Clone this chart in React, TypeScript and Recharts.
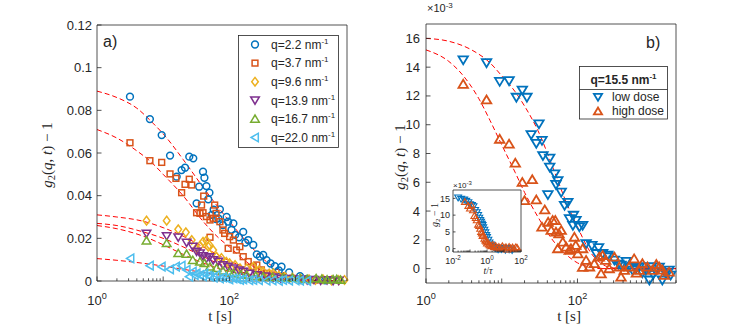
import React from "react";
import { CartesianGrid, ComposedChart, Line, Scatter, XAxis, YAxis } from "recharts";

type P = [number, number];

// ---- panel a: g2(q,t)-1 vs t [s], six q values ----
const qLabels = ["q=2.2", "q=3.7", "q=9.6", "q=13.9", "q=16.7", "q=22.0"];

const q22: P[] = [
  [3.15, 0.0864], [6.3, 0.0759], [9.5, 0.0684], [12.7, 0.0588], [16, 0.0489], [19, 0.052],
  [21.4, 0.0531], [24.8, 0.0583], [28.5, 0.0575], [32, 0.0364], [35, 0.0442], [40, 0.0512],
  [42, 0.0484], [45, 0.0445], [48, 0.0383], [50, 0.0414], [54, 0.031], [58, 0.0335],
  [63, 0.029], [68, 0.0294], [72, 0.0336], [80, 0.0262], [91, 0.03], [96, 0.0278],
  [108, 0.024], [115, 0.027], [122, 0.0216], [140, 0.0205], [162, 0.023], [175, 0.018],
  [193, 0.0192], [230, 0.0169], [260, 0.0125], [290, 0.0114], [325, 0.0122], [365, 0.0098],
  [420, 0.0082], [487, 0.007], [560, 0.005], [615, 0.0067], [800, 0.004], [1170, 0.0023],
  [1500, 0.001], [2000, 0.0006], [2800, 0.0003], [3500, 0.0004],
];
const q37: P[] = [
  [3.15, 0.0648], [6.3, 0.0564], [9.5, 0.0556], [12.7, 0.0502], [15.6, 0.0481], [19, 0.0414],
  [21.4, 0.0453], [24.8, 0.0477], [27, 0.045], [32, 0.032], [36, 0.0317], [38, 0.0356],
  [40, 0.032], [41, 0.0398], [45, 0.0302], [51, 0.0205], [51, 0.0286], [57, 0.0294],
  [60, 0.0356], [63, 0.0317], [72, 0.0278], [80, 0.0239], [85, 0.0223], [96, 0.0153],
  [101, 0.0208], [115, 0.0192], [128, 0.0145], [144, 0.0161], [162, 0.0114], [193, 0.0091],
  [230, 0.0067], [260, 0.0075], [305, 0.0052], [365, 0.0036], [460, 0.0028], [650, 0.002],
  [900, 0.0012], [1300, 0.0008], [2000, 0.0005],
];
const q96: P[] = [
  [5.6, 0.0283], [11.3, 0.0283], [16.9, 0.0242], [22, 0.0228], [27, 0.0192], [32, 0.0155],
  [36, 0.0165], [40, 0.0184], [45, 0.019], [48, 0.0161], [50, 0.0169], [57, 0.0145],
  [64, 0.0114], [76, 0.0108], [90, 0.009], [101, 0.0083], [122, 0.0075], [145, 0.006],
  [183, 0.0059], [230, 0.0067], [280, 0.005], [325, 0.0044], [400, 0.0035], [460, 0.0036],
  [560, 0.0025], [690, 0.002], [900, 0.0015], [1200, 0.001], [1600, 0.0008], [2000, 0.0005],
  [2600, 0.0008], [3500, 0.0003], [4500, 0.0004], [5500, 0.0005],
];
const q139: P[] = [
  [5.6, 0.0223], [11.3, 0.0211], [16.9, 0.0205], [22.6, 0.018], [28, 0.0161], [32, 0.0138],
  [36, 0.013], [40, 0.0117], [45, 0.0106], [50, 0.0112], [57, 0.0098], [68, 0.0091],
  [80, 0.0075], [95, 0.0068], [115, 0.0059], [140, 0.005], [162, 0.0044], [200, 0.0035],
  [260, 0.0028], [350, 0.0022], [460, 0.0017], [600, 0.0012], [800, 0.001], [1170, 0.0008],
  [1500, 0.0004], [1900, 0.0006], [2400, 0.0002], [3000, 0.0004], [3700, 0], [4500, 0.0002],
];
const q167: P[] = [
  [5.6, 0.0189], [11.3, 0.0177], [16.9, 0.013], [22.6, 0.0127], [28, 0.0098], [36, 0.0091],
  [42, 0.0083], [51, 0.0067], [64, 0.006], [80, 0.0048], [100, 0.004], [115, 0.0036],
  [150, 0.003], [183, 0.0028], [250, 0.0024], [325, 0.002], [450, 0.0018], [650, 0.0017],
  [900, 0.0014], [1170, 0.0012], [1500, 0.0009], [2050, 0.0012], [2500, 0.001], [3000, 0.0006],
  [3700, 0.0008], [4200, 0.0009], [4800, 0.0005],
];
const q220: P[] = [
  [3.2, 0.0106], [6.3, 0.0072], [9.5, 0.0067], [12.7, 0.0055], [15.6, 0.0067], [19, 0.0072],
  [22.6, 0.0052], [24.8, 0.002], [28, 0.0044], [30, 0.0028], [32, 0.0036], [36, 0.0028],
  [40, 0.0022], [42, 0.0036], [48, 0.0025], [51, 0.002], [58, 0.0016], [64, 0.0028],
  [72, 0.0012], [80, 0.0017], [90, 0.0014], [100, 0.0008], [115, 0.0012], [130, 0.001],
  [145, 0.0005], [162, 0.0008], [200, 0.0004], [230, 0.0005], [280, 0.0004], [365, 0.0002],
  [450, 0.0003], [560, 0.0001], [650, 0.0005], [800, 0.0002], [1000, 0.0003], [1170, 0.0002],
  [1500, 0.0001],
];

// fitted curves
const fit22: P[] = [[1, 0.089], [2, 0.086], [4, 0.081], [7, 0.074], [10, 0.069], [20, 0.057], [40, 0.044], [70, 0.034], [100, 0.028], [200, 0.017], [400, 0.008], [700, 0.0035], [1000, 0.0018], [2000, 0.0004], [4000, 0.0001]];
const fit37: P[] = [[1, 0.071], [2, 0.067], [4, 0.061], [7, 0.055], [10, 0.05], [20, 0.04], [40, 0.028], [70, 0.02], [100, 0.016], [200, 0.008], [400, 0.0035], [700, 0.0015], [1000, 0.0008], [2000, 0.0002], [4000, 0]];
const fit96: P[] = [[1, 0.031], [2, 0.03], [5, 0.028], [10, 0.025], [20, 0.021], [40, 0.016], [70, 0.012], [100, 0.0095], [200, 0.0055], [400, 0.0025], [700, 0.0012], [1000, 0.0007], [2000, 0.0002], [4000, 0]];
const fit139: P[] = [[1, 0.027], [2, 0.026], [5, 0.023], [10, 0.02], [20, 0.016], [40, 0.0115], [70, 0.008], [100, 0.0062], [200, 0.0032], [400, 0.0014], [700, 0.0006], [1000, 0.0003], [2000, 0.0001], [4000, 0]];
const fit167: P[] = [[1, 0.026], [2, 0.0245], [5, 0.021], [10, 0.017], [20, 0.0125], [40, 0.0085], [70, 0.0058], [100, 0.0045], [200, 0.0024], [400, 0.0012], [700, 0.0006], [1000, 0.0003], [2000, 0.0001], [4000, 0]];
const fit220: P[] = [[1, 0.0105], [2, 0.0097], [5, 0.0083], [10, 0.007], [20, 0.0055], [40, 0.004], [70, 0.0028], [100, 0.0022], [200, 0.0012], [400, 0.0006], [700, 0.0003], [1000, 0.0002], [2000, 0.0001], [4000, 0]];

const yTicksA = [0, 0.02, 0.04, 0.06, 0.08, 0.1, 0.12];

// ---- panel b: q=15.5 nm^-1, low vs high dose (units of 1e-3) ----
const doseLabels = ["low dose", "high dose"];
const lowDose: P[] = [
  [3.1, 14.5], [6.3, 14.3], [9.4, 13.0], [12.5, 13.05], [15.6, 11.9], [18.7, 12.4], [21.5, 11.9],
  [24.5, 9.3], [28.6, 8.7], [31, 10.05], [34, 8.9], [35, 7.85], [40.7, 5.13], [43, 7.67],
  [43, 7.04], [50, 6.58], [52, 5.84], [55, 6.1], [61, 5.3], [67.6, 4.39], [74.6, 4.6],
  [78.5, 3.46], [87, 3.0], [88.5, 3.7], [95.6, 3.35], [106, 2.89], [117, 3.0], [130, 1.73],
  [155, 1.6], [177, 1.04], [190, 1.45], [215, 1.04], [251, 0.92], [262, 0.8], [307, 0.58],
  [350, 0.3], [376, 0.23], [440, 0.5], [480, 0.12], [535, -0.12], [590, 0], [655, 0.12],
  [720, -0.3], [800, -0.12], [890, -0.8], [930, 0.12], [1000, -0.4], [1080, -0.16],
  [1200, 0.1], [1320, -0.8], [1450, -0.3], [1620, -0.12], [1700, -0.46],
];
const highDose: P[] = [
  [3.1, 12.82], [6.3, 11.73], [9.4, 9.0], [12.5, 8.66], [15.1, 7.34], [18.7, 6.0], [20, 4.73],
  [25.3, 6.19], [28.6, 4.78], [34, 2.89], [37, 4.09], [41, 3.23], [45, 2.66], [47, 3.35],
  [51, 3.35], [52, 2.54], [55, 1.39], [57, 2.42], [61, 2.66], [64, 1.85], [71, 1.5],
  [78, 1.27], [82, 1.39], [91, 2.19], [95, 1.62], [101, 1.04], [117, 1.39], [117, 0.1],
  [130, 0.58], [144, 0.12], [167, 0.35], [194, 0.81], [205, -0.35], [215, 0.92], [236, 0.58],
  [262, 0], [307, 0.81], [356, 0.12], [376, -0.58], [415, -0.12], [480, 0.12], [560, 0.69],
  [600, -0.3], [655, -0.12], [720, 0.35], [840, 0.12], [975, -0.12], [1100, 0.3], [1200, 0.12],
  [1320, -0.1], [1400, -0.46], [1620, -0.23],
];
const fitLow: P[] = [[1, 16.0], [2, 15.8], [4, 15.2], [7, 14.3], [10, 13.4], [15, 12.3], [20, 11.3], [30, 9.6], [50, 6.7], [70, 4.7], [100, 2.9], [150, 1.1], [200, 0.4], [300, 0.05], [500, 0], [1000, 0], [2000, 0]];
const fitHigh: P[] = [[1, 15.2], [2, 14.4], [3, 13.5], [5, 11.8], [7, 10.3], [10, 8.6], [15, 6.7], [20, 5.3], [30, 3.6], [50, 1.8], [70, 1.0], [100, 0.4], [150, 0.1], [200, 0], [1000, 0], [2000, 0]];
const zeroB: P[] = [[200, 0], [2000, 0]];
const yTicksB = [0, 2, 4, 6, 8, 10, 12, 14, 16];

// ---- inset: collapsed curves vs t/tau ----
const insetLow: P[] = [
  [0.02, 15.2], [0.03, 14.8], [0.045, 14.6], [0.06, 14.2], [0.08, 13.8], [0.1, 13.2], [0.13, 13.0],
  [0.16, 12.6], [0.2, 11.5], [0.25, 10.8], [0.3, 10.0], [0.35, 9.2], [0.4, 8.5], [0.45, 8.0],
  [0.5, 7.4], [0.55, 7.0], [0.6, 6.3], [0.7, 5.6], [0.8, 4.8], [0.9, 4.0], [1.0, 3.4], [1.2, 2.6],
  [1.4, 1.8], [1.7, 1.2], [2.0, 0.8], [2.5, 0.4], [3.0, 0.2], [3.5, 0.0], [4.5, -0.3], [5.5, 0.1],
  [7, -0.2], [9, 0.2], [12, -0.4], [15, 0.1], [20, -0.3], [25, 0.0], [30, -0.5],
];
const insetHigh: P[] = [
  [0.05, 14.0], [0.08, 12.8], [0.1, 12.0], [0.12, 13.0], [0.15, 11.5], [0.18, 9.8], [0.22, 9.2],
  [0.25, 8.5], [0.3, 7.2], [0.35, 6.8], [0.4, 6.0], [0.45, 5.0], [0.5, 4.6], [0.55, 3.8], [0.6, 4.2],
  [0.7, 3.0], [0.8, 2.5], [0.9, 2.2], [1.0, 1.6], [1.1, 2.0], [1.3, 1.3], [1.5, 1.0], [1.8, 0.8],
  [2.2, 1.2], [2.6, 0.5], [3.2, 0.9], [4, 0.3], [5, 0.6], [6, 0.1], [8, 0.8], [10, 0.3], [13, 0.5],
  [16, -0.2], [20, 0.6], [25, 0.2], [32, 0.4], [40, 0.0], [50, 0.5], [60, 0.3],
];
const yTicksInset = [0, 5, 10, 15];

// ---- styling ----
const INK = "#262626";
const SANS = "'Liberation Sans', Arial, Helvetica, sans-serif";
const SERIF = "'Liberation Serif', 'DejaVu Serif', serif";
const FIT = "#ff0000";
const C = ["#0072BD", "#D95319", "#EDB120", "#7E2F8E", "#77AC30", "#4DBEEE"];

const seriesA = [
  { data: q22, fit: fit22, k: "o", c: C[0] },
  { data: q37, fit: fit37, k: "s", c: C[1] },
  { data: q96, fit: fit96, k: "d", c: C[2] },
  { data: q139, fit: fit139, k: "v", c: C[3] },
  { data: q167, fit: fit167, k: "^", c: C[4] },
  { data: q220, fit: fit220, k: "<", c: C[5] },
];

const toPts = (a: P[]) => a.map(([t, v]) => ({ t, v }));

function logTicks(lo: number, hi: number) {
  const out: number[] = [];
  for (let e = Math.floor(Math.log10(lo)); e <= Math.ceil(Math.log10(hi)); e++) {
    for (let m = 1; m < 10; m++) {
      const v = Number((m * Math.pow(10, e)).toPrecision(3));
      if (v >= lo * 0.999 && v <= hi * 1.001) out.push(v);
    }
  }
  return out;
}
const decade = (v: number) => {
  const l = Math.log10(v);
  return Math.abs(l - Math.round(l)) < 1e-6 ? Math.round(l) : null;
};

function Mk({ k, x, y, c, s = 1, w = 1.5 }: { k: string; x: number; y: number; c: string; s?: number; w?: number }) {
  const st = { fill: "none", stroke: c, strokeWidth: w };
  if (k === "o") return <circle cx={x} cy={y} r={3.4 * s} {...st} />;
  if (k === "s") return <rect x={x - 2.9 * s} y={y - 2.9 * s} width={5.8 * s} height={5.8 * s} {...st} />;
  let pts: number[][];
  if (k === "d") pts = [[0, -4.3], [3.3, 0], [0, 4.3], [-3.3, 0]];
  else if (k === "v") pts = [[-4.3, -3.3], [4.3, -3.3], [0, 3.9]];
  else if (k === "^") pts = [[-4.3, 3.3], [4.3, 3.3], [0, -3.9]];
  else pts = [[-3.9, 0], [3.3, -4.3], [3.3, 4.3]];
  return <polygon points={pts.map(([a, b]) => `${x + a * s},${y + b * s}`).join(" ")} {...st} />;
}

function Pow({ x, y, e, fs }: { x: number; y: number; e: number; fs: number }) {
  return (
    <text x={x} y={y} textAnchor="middle" fontFamily={SANS} fontSize={fs} fill={INK}>
      <tspan>10</tspan>
      <tspan fontSize={fs * 0.7} dy={-fs * 0.45}>{e}</tspan>
    </text>
  );
}

// inward ticks, Matlab style
function xTick(side: "bottom" | "top", len: number, fs = 0, off = 0) {
  return (p: any) => {
    const v = p.payload.value;
    const e = decade(v);
    const l = e === null ? len * 0.6 : len;
    const d = side === "bottom" ? -1 : 1;
    return (
      <g>
        <line x1={p.x} x2={p.x} y1={p.y} y2={p.y + d * l} stroke={INK} strokeWidth={0.8} />
        {side === "bottom" && e !== null && e % 2 === 0 && <Pow x={p.x} y={p.y + off} e={e} fs={fs} />}
      </g>
    );
  };
}
function yTick(side: "left" | "right", len: number, fs = 0, gap = 0) {
  return (p: any) => {
    const d = side === "left" ? 1 : -1;
    return (
      <g>
        <line x1={p.x} x2={p.x + d * len} y1={p.y} y2={p.y} stroke={INK} strokeWidth={0.8} />
        {side === "left" && (
          <text x={p.x - gap} y={p.y} dy="0.35em" textAnchor="end" fontFamily={SANS} fontSize={fs} fill={INK}>
            {String(p.payload.value)}
          </text>
        )}
      </g>
    );
  };
}

const axisLine = { stroke: INK, strokeWidth: 0.8 };
const flat = { tickSize: 0, tickMargin: 0, interval: 0 as const };

// axes are 1px thick so Recharts still draws them; margins are reduced by 1 to compensate
function AxesBox({ xd, xt, yd, yt, bottomOff, fs, len, gap }: any) {
  return [
    <XAxis key="xb" dataKey="t" type="number" scale="log" domain={xd} ticks={xt} height={1} {...flat} tick={xTick("bottom", len, fs, bottomOff)} axisLine={axisLine} />,
    <XAxis key="xt" xAxisId="top" orientation="top" dataKey="t" type="number" scale="log" domain={xd} ticks={xt} height={1} {...flat} tick={xTick("top", len)} axisLine={axisLine} />,
    <YAxis key="yl" dataKey="v" type="number" domain={yd} ticks={yt} width={1} {...flat} tick={yTick("left", len, fs, gap)} axisLine={axisLine} />,
    <YAxis key="yr" yAxisId="right" orientation="right" dataKey="v" type="number" domain={yd} ticks={yt} width={1} {...flat} tick={yTick("right", len)} axisLine={axisLine} />,
  ];
}

const fitLine = (d: P[], key: string, dash = "5 3") => (
  <Line key={key} data={toPts(d)} dataKey="v" type="monotone" stroke={FIT} strokeWidth={1} strokeDasharray={dash} dot={false} activeDot={false} isAnimationActive={false} />
);

function YLabel({ x, y, fs, short }: { x: number; y: number; fs: number; short?: boolean }) {
  return (
    <text transform={`translate(${x},${y}) rotate(-90)`} textAnchor="middle" fontFamily={SERIF} fontSize={fs} fill={INK}>
      <tspan fontStyle="italic">g</tspan>
      <tspan fontSize={fs * 0.7} dy={fs * 0.2}>2</tspan>
      {short ? (
        <tspan dy={-fs * 0.2}>{" \u2212 1"}</tspan>
      ) : (
        <>
          <tspan dy={-fs * 0.2}>(</tspan>
          <tspan fontStyle="italic">q</tspan>
          <tspan>, </tspan>
          <tspan fontStyle="italic">t</tspan>
          <tspan>{") \u2212 1"}</tspan>
        </>
      )}
    </text>
  );
}

export default function App() {
  const xtA = logTicks(1, 6000);
  const xtB = logTicks(1, 2000);
  const xtI = logTicks(0.01, 100);
  return (
    <div style={{ position: "absolute", left: 0, top: 0, width: 747, height: 325, background: "#fff", overflow: "hidden" }}>
      {/* panel a */}
      <div style={{ position: "absolute", left: 0, top: 0 }}>
        <ComposedChart width={370} height={325} margin={{ top: 24, right: 22, bottom: 43, left: 96 }}>
          {AxesBox({ xd: [1, 6000], xt: xtA, yd: [0, 0.12], yt: yTicksA, bottomOff: 24, fs: 13, len: 4.5, gap: 5 })}
          {seriesA.map((s, i) => (
            <Scatter key={`s${i}`} data={toPts(s.data)} dataKey="v" isAnimationActive={false}
              shape={(p: any) => <Mk k={s.k} x={p.cx} y={p.cy} c={s.c} />} />
          ))}
          {seriesA.map((s, i) => fitLine(s.fit, `f${i}`))}
        </ComposedChart>
      </div>

      {/* panel b */}
      <div style={{ position: "absolute", left: 370, top: 0 }}>
        <ComposedChart width={377} height={325} margin={{ top: 23, right: 70, bottom: 41, left: 55 }}>
          {AxesBox({ xd: [1, 2000], xt: xtB, yd: [-1, 17], yt: yTicksB, bottomOff: 22, fs: 13, len: 4.5, gap: 6 })}
          <Scatter data={toPts(lowDose)} dataKey="v" isAnimationActive={false}
            shape={(p: any) => <Mk k="v" x={p.cx} y={p.cy} c={C[0]} s={1.1} w={1.8} />} />
          <Scatter data={toPts(highDose)} dataKey="v" isAnimationActive={false}
            shape={(p: any) => <Mk k="^" x={p.cx} y={p.cy} c={C[1]} s={1.1} w={1.8} />} />
          {fitLine(fitLow, "fl")}
          {fitLine(fitHigh, "fh")}
          {fitLine(zeroB, "z0", "none")}
        </ComposedChart>
      </div>

      {/* inset in panel b */}
      <div style={{ position: "absolute", left: 420, top: 175 }}>
        <ComposedChart width={115} height={105} margin={{ top: 14, right: 13, bottom: 27, left: 32 }}>
          <CartesianGrid fill="#fff" horizontal={false} vertical={false} />
          {AxesBox({ xd: [0.01, 100], xt: xtI, yd: [-1, 17.5], yt: yTicksInset, bottomOff: 12, fs: 9, len: 2.5, gap: 3 })}
          <Scatter data={toPts(insetLow)} dataKey="v" isAnimationActive={false}
            shape={(p: any) => <Mk k="v" x={p.cx} y={p.cy} c={C[0]} s={0.8} w={1.1} />} />
          <Scatter data={toPts(insetHigh)} dataKey="v" isAnimationActive={false}
            shape={(p: any) => <Mk k="^" x={p.cx} y={p.cy} c={C[1]} s={0.8} w={1.1} />} />
        </ComposedChart>
      </div>

      {/* titles, annotations, legends */}
      <svg width={747} height={325} style={{ position: "absolute", left: 0, top: 0, pointerEvents: "none" }}>
        <YLabel x={52} y={155} fs={15} />
        <YLabel x={405} y={157} fs={15} />
        <text x={220} y={321} textAnchor="middle" fontFamily={SERIF} fontSize={15} fill={INK}>t [s]</text>
        <text x={569} y={321} textAnchor="middle" fontFamily={SERIF} fontSize={15} fill={INK}>t [s]</text>
        <text x={103} y={47} fontFamily={SANS} fontSize={16} fill={INK}>a)</text>
        <text x={646} y={48} fontFamily={SANS} fontSize={16} fill={INK}>b)</text>
        <text x={427} y={12} fontFamily={SANS} fontSize={11} fill={INK}>
          ×10<tspan fontSize={8} dy={-4}>-3</tspan>
        </text>

        {/* inset labels */}
        <text x={453} y={188} fontFamily={SANS} fontSize={8} fill={INK}>
          ×10<tspan fontSize={6} dy={-3}>-3</tspan>
        </text>
        <YLabel x={438} y={215} fs={10} short />
        <text x={488} y={274} textAnchor="middle" fontFamily={SERIF} fontSize={10} fill={INK}>
          <tspan fontStyle="italic">t</tspan>/<tspan fontStyle="italic">τ</tspan>
        </text>

        {/* legend a */}
        <rect x={238.5} y={35.5} width={100} height={112} fill="#fff" stroke={INK} strokeWidth={0.8} />
        {seriesA.map((s, i) => {
          const y = 44.5 + i * 18.6;
          return (
            <g key={`la${i}`}>
              <Mk k={s.k} x={255} y={y} c={s.c} />
              <text x={271} y={y + 4.2} fontFamily={SANS} fontSize={12} fill={INK}>
                {qLabels[i]} nm<tspan fontSize={8} dy={-5}>-1</tspan>
              </text>
            </g>
          );
        })}

        {/* legend b */}
        <rect x={579.5} y={66.5} width={88} height={52.5} fill="#fff" stroke={INK} strokeWidth={0.8} />
        <text x={623.5} y={83.5} textAnchor="middle" fontFamily={SANS} fontSize={12} fontWeight="bold" fill={INK}>
          q=15.5 nm<tspan fontSize={8} dy={-5}>-1</tspan>
        </text>
        <line x1={579.5} x2={667.5} y1={89.5} y2={89.5} stroke={INK} strokeWidth={0.8} />
        {doseLabels.map((lab, i) => {
          const y = 97 + i * 14.3;
          return (
            <g key={`lb${i}`}>
              <Mk k={i === 0 ? "v" : "^"} x={598} y={y} c={C[i]} s={0.95} w={1.8} />
              <text x={612} y={y + 4} fontFamily={SANS} fontSize={12} fill={INK}>{lab}</text>
            </g>
          );
        })}
      </svg>
    </div>
  );
}
